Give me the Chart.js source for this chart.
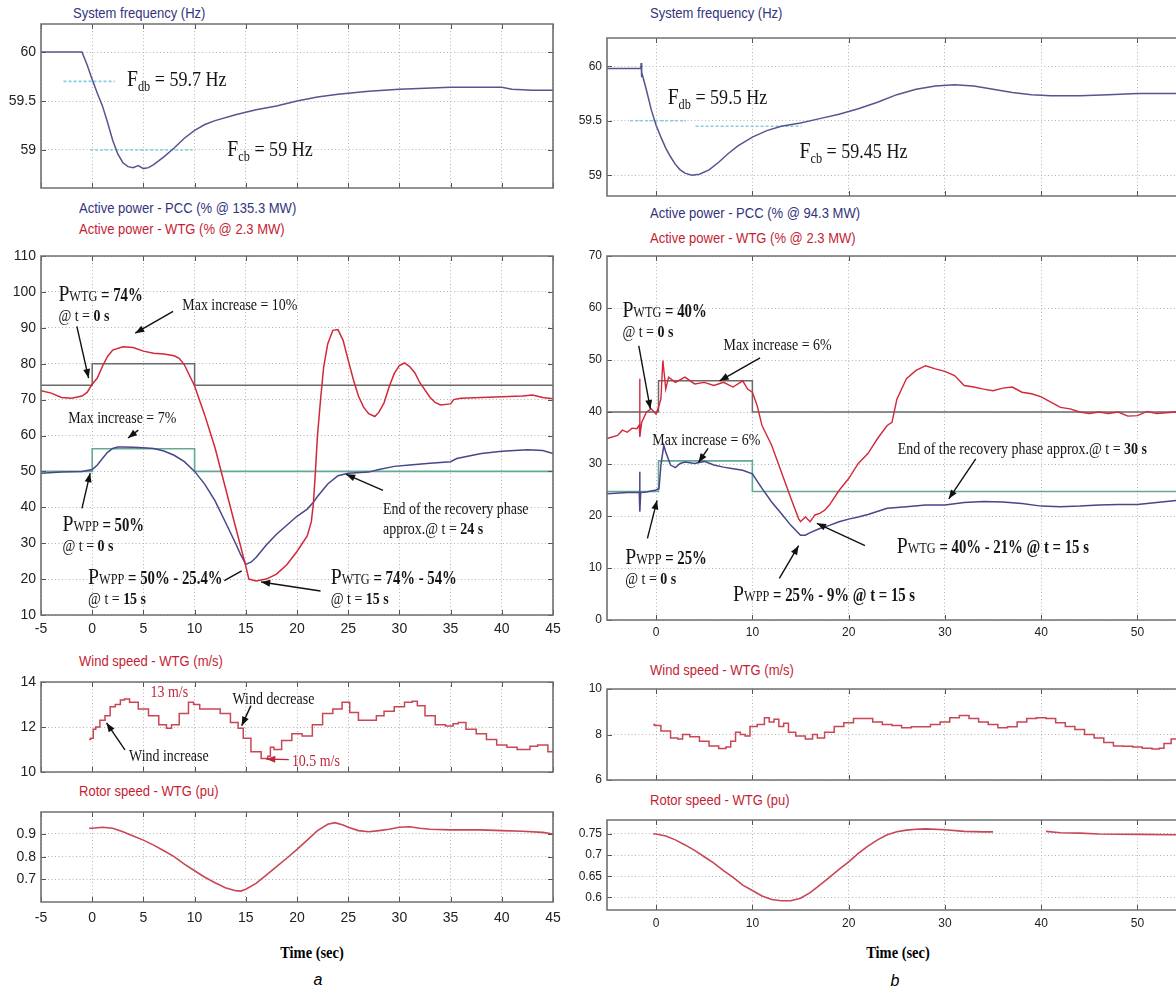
<!DOCTYPE html>
<html><head><meta charset="utf-8">
<script src="https://cdn.jsdelivr.net/npm/chart.js@4.4.1/dist/chart.umd.min.js"></script>
<style>
html,body{margin:0;padding:0;background:#fff}
body{width:1176px;height:987px;position:relative;overflow:hidden}
.cw{position:absolute}
.cw canvas{display:block}
.tt{position:absolute;white-space:nowrap;font-family:"Liberation Sans",Arial,sans-serif;font-size:14px;transform:translateY(-50%) scaleX(0.93);transform-origin:0 50%}
.blue{color:#33337d}.red{color:#c41e34}
.xt{position:absolute;white-space:nowrap;font-family:"Liberation Serif",serif;font-weight:bold;font-size:17px;transform:translate(-50%,-50%) scaleX(0.85)}
.pl{position:absolute;font-family:"Liberation Sans",Arial,sans-serif;font-style:italic;font-size:16px;transform:translate(-50%,-50%)}
</style></head><body>
<div class="tt blue" style="left:73px;top:13px">System frequency (Hz)</div>
<div class="tt blue" style="left:79px;top:208px">Active power - PCC (% @ 135.3 MW)</div>
<div class="tt red" style="left:79px;top:229px">Active power - WTG (% @ 2.3 MW)</div>
<div class="tt red" style="left:79px;top:661px">Wind speed - WTG (m/s)</div>
<div class="tt red" style="left:79px;top:791px">Rotor speed - WTG (pu)</div>
<div class="tt blue" style="left:650px;top:13px">System frequency (Hz)</div>
<div class="tt blue" style="left:650px;top:213px">Active power - PCC (% @ 94.3 MW)</div>
<div class="tt red" style="left:650px;top:238px">Active power - WTG (% @ 2.3 MW)</div>
<div class="tt red" style="left:650px;top:670px">Wind speed - WTG (m/s)</div>
<div class="tt red" style="left:650px;top:800px">Rotor speed - WTG (pu)</div>
<div class="xt" style="left:312px;top:953px">Time (sec)</div>
<div class="xt" style="left:898px;top:953px">Time (sec)</div>
<div class="pl" style="left:318px;top:980px">a</div>
<div class="pl" style="left:895px;top:981px">b</div>
<script>
// ================= DATA =================
// ---- panel a : system frequency ----
const aFreqT = [-5,-1,-0.5,0,0.5,1,1.5,2,2.5,3,3.5,4,4.5,5,5.5,6,7,8,9,10,11,12,14,16,18,20,22,24,27,30,35,40,41,43,45];
const aFreqV = [60,60,59.87,59.72,59.58,59.45,59.28,59.1,58.96,58.87,58.83,58.82,58.84,58.81,58.82,58.85,58.93,59.02,59.12,59.2,59.26,59.3,59.36,59.41,59.45,59.5,59.54,59.57,59.6,59.62,59.64,59.64,59.62,59.61,59.61];
const aFdbT = [-2.8,2.2], aFdbV = [59.7,59.7];
const aFcbT = [-0.2,9.8], aFcbV = [59,59];
// ---- panel a : active power ----
const aWtgT = [-5,-4,-3,-2,-1,-0.5,0,0.5,1,1.5,2,3,4,5,6,7,8,8.5,9,10,11,12,13,14,15,15.3,16,17,18,19,20,21,21.4,21.6,21.8,22,22.3,22.6,23,23.5,24,24.5,25,25.5,26,26.5,27,27.6,28,28.5,29,29.5,30,30.5,31,31.5,32,33,33.5,34,35,35.3,36,38,40,42,43,44,45];
const aWtgV = [72.5,71.8,70.6,70.4,71,72,74.3,76,79.3,82,83.8,84.7,84.5,83.5,82.9,82.7,82.2,81.5,79.7,73.8,65.6,56.5,45.5,34.5,23.6,20,19.5,20,21.4,24,27.7,32,36,41,50,60,70,79,85.5,89.3,89.5,86.5,81,75.6,71,67.9,66.1,65.3,66.5,69.1,73.6,77.3,79.5,80.2,79.2,77.5,74.7,70.6,69.2,68.5,68.8,70,70.4,70.6,70.8,71,71.3,70.6,70.2];
const aPccT = [-5,-3,-1,0,0.5,1,1.5,2,2.5,3,4,5,6,7,8,9,10,11,12,13,14,14.5,15,15.5,16,17,18,19,20,21,21.6,22,23,24,25,27,28,29.5,31,33,35,35.6,38,40,42.5,44,45];
const aPccV = [49.5,49.8,50,50.5,51.8,53.6,55.3,56.4,56.8,56.8,56.7,56.6,56.4,55.7,54.5,52.7,50,46.4,41.8,35.9,30,26.8,24.1,24.7,26,29.5,32.5,35,37.5,39.5,41.4,43,46.5,48.8,49.5,49.8,50.5,51.4,51.8,52.3,52.7,53.6,55,55.6,56,55.8,55];
const aWtgRefT = [-5,0,0,10,10,45], aWtgRefV = [74,74,80,80,74,74];
const aPccRefT = [-5,0,0,10,10,45], aPccRefV = [50,50,56.3,56.3,50,50];
// ---- panel a : wind speed / rotor speed ----
const aWindT = [-0.3,0,0.2,0.5,1,1.5,2,2.5,3,3.3,4,5,6,7,7.5,8,9,9.8,10,11,12,13,14,14.5,15,16,17,17.3,17.5,18,19,20,21,22,23,24,24.8,25.5,26.5,27.5,28,29,30,31,31.5,32,33,34,35,35.5,36,37,38,39,40,41,42,42.5,43,44,45];
const aWindV = [11.45,11.5,11.9,12.0,12.3,12.5,12.9,13.0,13.2,13.25,13.1,12.8,12.5,12.1,11.95,12.1,12.6,13.1,13.0,12.8,12.8,12.6,12.2,11.95,11.5,10.9,10.6,10.7,11.1,11.0,11.4,11.7,11.6,12.1,12.6,12.8,13.1,12.65,12.3,12.3,12.5,12.7,12.9,13.1,13.15,12.95,12.5,12.1,12.05,12.15,12.2,11.9,11.7,11.45,11.2,11.1,11.0,11.0,11.15,11.2,10.9];
const aRotorT = [-0.3,0,1,2,3,4,5,6,7,8,9,10,11,12,13,14,14.5,15,16,17,18,19,20,21,22,23,23.7,24.5,25,26,27,28,29,30,31,32,33,35,38,40,42,44,45];
const aRotorV = [0.925,0.925,0.93,0.925,0.91,0.891,0.873,0.851,0.826,0.8,0.767,0.738,0.709,0.685,0.663,0.65,0.648,0.656,0.682,0.719,0.756,0.793,0.832,0.873,0.915,0.943,0.95,0.94,0.93,0.915,0.91,0.915,0.921,0.93,0.932,0.925,0.921,0.918,0.918,0.915,0.912,0.907,0.9];
// ---- panel b : system frequency ----
const bFreqT = [-5.1,-1.6,-1.55,-1.5,-1.45,-1,-0.5,0,0.5,1,1.5,2,2.5,3,3.7,4.5,5.5,6.5,7.5,8.5,10,11.5,13,15,17,19,21,23,25,27,29,31,33,35,37,39,41,44,47,50,54];
const bFreqV = [59.98,59.98,60.03,59.9,59.93,59.78,59.6,59.46,59.35,59.25,59.17,59.1,59.05,59.02,59.0,59.01,59.05,59.12,59.2,59.27,59.35,59.41,59.45,59.48,59.52,59.56,59.61,59.67,59.74,59.79,59.82,59.83,59.82,59.79,59.76,59.74,59.73,59.73,59.74,59.75,59.75];
const bFdbT = [-2.7,3.1], bFdbV = [59.5,59.5];
const bFcbT = [4.1,15.1], bFcbV = [59.45,59.45];
// ---- panel b : active power ----
const bWtgT = [-5.1,-4,-3.5,-3,-2.5,-2,-1.75,-1.7,-1.68,-1.5,-1,-0.5,0,0.3,0.5,0.7,0.9,1.0,1.3,2,3,4,5,6,7,8,9,9.5,10,10.5,11,12,13,14,14.8,15,15.5,16,16.5,17,17.5,18,19,20,21,22,23,24,24.5,25,26,27,28,29,30,31,32,33,34,35,36,37,38,39,40,41,42,43,44,45,46,47,48,49,50,51,52,54];
const bWtgV = [34.9,35.5,36.5,36.1,36.9,36.8,37.5,46.4,35.2,38,40,40.6,39.6,41.2,42.5,49.9,46.4,44.4,46.7,45.7,46.7,45.4,45.7,45.1,45.7,44.8,46,44.4,43.8,41.2,37.4,33.6,28.5,23.4,19.5,18.9,19.8,18.9,20.2,20.5,21.1,22.1,24.9,27.2,30.1,32,34.9,37.4,38,42.4,46.4,48,48.9,48.3,47.8,47,45.1,44.8,44.4,44.1,44.6,44.8,43.8,43.5,42.9,41.9,40.9,40.6,40,39.7,40,39.7,40,39.2,39.3,40.1,39.7,40];
const bPccT = [-5.1,-3,-1.75,-1.7,-1.68,-1.6,-1,0,0.3,0.5,0.8,1.0,1.5,2,2.5,3,4,5,6,7,8,9,10,11,12,13,14,15,15.5,16,17,18,19,20,21,22,24,26,28,30,32,34,36,38,40,42,44,46,48,50,52,54];
const bPccV = [24.3,24.5,24.5,28.5,20.8,24.5,24.6,25,25.3,29.8,33.6,32.3,29.8,29.3,30.1,30.4,30.1,30.5,29.8,29.4,29.1,28.8,28.1,25.3,22.7,20.5,18.2,16.3,16.3,16.8,17.6,18.2,18.9,19.4,19.8,20.3,21.5,21.8,22.1,22.1,22.6,22.8,22.7,22.4,21.9,21.8,21.9,22.1,22.2,22.2,22.6,23];
const bWtgRefT = [-5.1,0.25,0.25,10,10,54], bWtgRefV = [40,40,46,46,40,40];
const bPccRefT = [-5.1,0.25,0.25,10,10,54], bPccRefV = [24.7,24.7,30.6,30.6,24.7,24.7];
// ---- panel b : wind speed / rotor speed ----
const bWindT = [-0.3,0,1,2,2.5,3,4,5,6,7,7.5,8,8.5,9,9.5,10,11,11.5,12,12.5,13,13.5,14,15,16,16.5,17,18,19,20,21,22,23,24,25,26,27,28,29,30,31,32,33,34,35,36,37,38,39,40,41,42,43,44,45,46,47,48,49,50,51,52,52.5,53,54];
const bWindV = [8.44,8.4,8.15,7.85,7.8,8.0,7.9,7.7,7.5,7.38,7.45,7.7,8.1,8.0,7.93,8.35,8.44,8.74,8.55,8.67,8.35,8.5,8.1,7.93,7.8,8.0,7.85,8.1,8.35,8.52,8.7,8.7,8.55,8.44,8.4,8.3,8.34,8.34,8.44,8.55,8.74,8.84,8.7,8.55,8.44,8.3,8.34,8.55,8.7,8.74,8.7,8.52,8.35,8.22,8.0,7.85,7.65,7.5,7.48,7.45,7.4,7.36,7.4,7.6,7.8];
const bRotorT = [-0.3,0,1,2,3,4,5,6,7,8,9,10,11,12,13,14,15,16,17,18,19,20,21,22,23,24,25,26,27,28,30,32,34,35,37.5,40.5,42,44,46,50,54];
const bRotorV = [0.75,0.75,0.745,0.736,0.724,0.711,0.696,0.681,0.663,0.647,0.629,0.616,0.603,0.595,0.592,0.592,0.598,0.611,0.629,0.647,0.666,0.684,0.704,0.721,0.736,0.748,0.755,0.759,0.761,0.762,0.76,0.756,0.755,0.755,null,0.756,0.753,0.752,0.75,0.749,0.748];
// ---- tick values ----
const aXTicks = [-5,0,5,10,15,20,25,30,35,40,45];
const bXTicks = [0,10,20,30,40,50];
const aFreqTicks = [59,59.5,60], aPowTicks = [10,20,30,40,50,60,70,80,90,100,110], aWindTicks = [10,12,14], aRotorTicks = [0.7,0.8,0.9];
const bFreqTicks = [59,59.5,60], bPowTicks = [0,10,20,30,40,50,60,70], bWindTicks = [6,8,10], bRotorTicks = [0.6,0.65,0.7,0.75];

// ================= DRAWING =================
const HS = 0.82;
const SERIF = '"Liberation Serif","Times New Roman",serif';
const annMap = new WeakMap();
const C = {freq:'#55558f', pcc:'#47478a', wtg:'#d2283a', gref:'#6a6a6a', pref:'#63a996', cyan:'#86cde0', wind:'#c84656'};

function pts(ts, vs){ return ts.map((t,i)=>({x:t, y:vs[i]})); }
function ln(ts, vs, color, width, extra){
  return Object.assign({data:pts(ts,vs), borderColor:color, borderWidth:width, pointRadius:0, tension:0, fill:false, spanGaps:false}, extra||{});
}
const Pl = (sub, rest) => [{t:'P', s:24}, {t:sub, s:15}, {t:rest, s:18, w:700}];
const Tx = (txt, bold) => bold ? [{t:txt, s:17}, {t:bold, s:17, w:700}] : [{t:txt, s:17}];
const Fl = (sub, rest) => [{t:'F', s:24}, {t:sub, s:15, dy:5}, {t:rest, s:22}];

function drawParts(ctx, px, py, parts, color){
  ctx.save(); ctx.translate(px, py); ctx.scale(HS, 1);
  ctx.fillStyle = color; ctx.textBaseline = 'alphabetic';
  let cx = 0;
  parts.forEach(p=>{
    ctx.font = (p.w||400) + ' ' + p.s + 'px ' + SERIF;
    ctx.fillText(p.t, cx, 6 + (p.dy||0));
    cx += ctx.measureText(p.t).width;
  });
  ctx.restore();
}
function drawArrow(ctx, x1, y1, x2, y2, color, head){
  ctx.strokeStyle = color; ctx.fillStyle = color; ctx.lineWidth = 1.4;
  ctx.beginPath(); ctx.moveTo(x1,y1); ctx.lineTo(x2,y2); ctx.stroke();
  if (head){
    const a = Math.atan2(y2-y1, x2-x1), L = 9, W = 3.5;
    ctx.beginPath(); ctx.moveTo(x2,y2);
    ctx.lineTo(x2 - L*Math.cos(a) + W*Math.sin(a), y2 - L*Math.sin(a) - W*Math.cos(a));
    ctx.lineTo(x2 - L*Math.cos(a) - W*Math.sin(a), y2 - L*Math.sin(a) + W*Math.cos(a));
    ctx.closePath(); ctx.fill();
  }
}
const annPlugin = {id:'ann', afterDraw(chart){
  const s = annMap.get(chart.canvas); if (!s) return;
  const ctx = chart.ctx, a = chart.chartArea, xs = chart.scales.x, ys = chart.scales.y;
  ctx.save();
  ctx.strokeStyle = '#555'; ctx.lineWidth = 1;
  ctx.beginPath();
  xs.ticks.forEach(t=>{ const p = Math.round(xs.getPixelForValue(t.value))+0.5;
    ctx.moveTo(p,a.top); ctx.lineTo(p,a.top+5); ctx.moveTo(p,a.bottom); ctx.lineTo(p,a.bottom-5); });
  ys.ticks.forEach(t=>{ const p = Math.round(ys.getPixelForValue(t.value))+0.5;
    ctx.moveTo(a.left,p); ctx.lineTo(a.left+5,p);
    if (!s.open){ ctx.moveTo(a.right,p); ctx.lineTo(a.right-5,p); } });
  ctx.stroke();
  ctx.strokeStyle = '#707070'; ctx.lineWidth = 1.6;
  ctx.beginPath();
  if (s.open){ ctx.moveTo(a.right+2,a.top); ctx.lineTo(a.left,a.top); ctx.lineTo(a.left,a.bottom); ctx.lineTo(a.right+2,a.bottom); }
  else ctx.rect(a.left, a.top, a.right-a.left, a.bottom-a.top);
  ctx.stroke();
  (s.arrows||[]).forEach(r=>drawArrow(ctx, xs.getPixelForValue(r[0]), ys.getPixelForValue(r[1]), xs.getPixelForValue(r[2]), ys.getPixelForValue(r[3]), r[5]||'#111', r[4]));
  (s.texts||[]).forEach(tx=>drawParts(ctx, xs.getPixelForValue(tx.x), ys.getPixelForValue(tx.y), tx.parts, tx.color||'#151515'));
  ctx.restore();
}};
Chart.register(annPlugin);

function makeChart(s){
  const [bl,bt,br,bb] = s.box;
  const L = bl - s.yw, T = bt - s.pt;
  const W = s.yw + (br-bl) + s.pr, H = s.pt + (bb-bt) + s.xh;
  const div = document.createElement('div'); div.className = 'cw';
  Object.assign(div.style, {left:L+'px', top:T+'px', width:W+'px', height:H+'px'});
  const cv = document.createElement('canvas');
  cv.width = W; cv.height = H; cv.style.width = W+'px'; cv.style.height = H+'px';
  div.appendChild(cv); document.body.appendChild(div);
  annMap.set(cv, s);
  const font = () => ({family:'"Liberation Sans",Arial,sans-serif', size:s.fs||13});
  const grid = () => ({color:'#b4b4b4', lineWidth:1, drawTicks:false});
  const border = () => ({display:false, dash:[1,2.5]});
  return new Chart(cv, {type:'line', data:{datasets:s.datasets}, options:{
    responsive:false, animation:false, devicePixelRatio:1, events:[],
    layout:{padding:{top:s.pt, right:s.pr, left:0, bottom:0}},
    plugins:{legend:{display:false}, tooltip:{enabled:false}},
    scales:{
      x:{type:'linear', min:s.xr[0], max:s.xr[1], grid:grid(), border:border(),
         afterBuildTicks: sc=>{ sc.ticks = s.xTicks.map(v=>({value:v})); },
         ticks:{display:!!s.xLab, color:'#222', font:font(), padding:s.xpad||6, maxRotation:0, minRotation:0, autoSkip:false, callback:v=>String(v)},
         afterFit: sc=>{ sc.height = s.xh; sc.paddingLeft = 0; sc.paddingRight = 0; }},
      y:{type:'linear', min:s.yr[0], max:s.yr[1], grid:grid(), border:border(),
         afterBuildTicks: sc=>{ sc.ticks = s.yTicks.map(v=>({value:v})); },
         ticks:{color:'#222', font:font(), padding:5, autoSkip:false, callback:v=>String(v)},
         afterFit: sc=>{ sc.width = s.yw; sc.paddingTop = 0; sc.paddingBottom = 0; }}
    }
  }});
}

const aX = [-5,45], bX = [-5.1,54];
// ---------- panel a ----------
makeChart({box:[41,24,553,188], yw:40, pt:10, pr:8, xh:8, xr:aX, yr:[58.612,60.286], xTicks:aXTicks, yTicks:aFreqTicks, fs:14,
  datasets:[ ln(aFreqT,aFreqV,C.freq,1.5), ln(aFdbT,aFdbV,C.cyan,1.6,{borderDash:[3,2]}), ln(aFcbT,aFcbV,C.cyan,1.6,{borderDash:[3,2]}) ],
  texts:[ {x:3.4, y:59.71, parts:Fl('db',' = 59.7 Hz')}, {x:13.2, y:59.0, parts:Fl('cb',' = 59 Hz')} ]});
makeChart({box:[41,256,553,615], yw:40, pt:10, pr:8, xh:30, xLab:true, xpad:6, xr:aX, yr:[10,110], xTicks:aXTicks, yTicks:aPowTicks, fs:14,
  datasets:[ ln(aWtgT,aWtgV,C.wtg,1.5), ln(aPccT,aPccV,C.pcc,1.5), ln(aWtgRefT,aWtgRefV,C.gref,1.5), ln(aPccRefT,aPccRefV,C.pref,1.6) ],
  texts:[
    {x:-3.3, y:99.2, parts:Pl('WTG',' = 74%')}, {x:-3.3, y:93.6, parts:Tx('@ t = ','0 s')},
    {x:8.8, y:96.6, parts:Tx('Max increase = 10%')}, {x:-2.35, y:65.1, parts:Tx('Max increase = 7%')},
    {x:-2.9, y:35, parts:Pl('WPP',' = 50%')}, {x:-2.9, y:29.4, parts:Tx('@ t = ','0 s')},
    {x:-0.4, y:20.2, parts:Pl('WPP',' = 50% - 25.4%')}, {x:-0.4, y:14.8, parts:Tx('@ t = ','15 s')},
    {x:23.3, y:20.2, parts:Pl('WTG',' = 74% - 54%')}, {x:23.3, y:14.8, parts:Tx('@ t = ','15 s')},
    {x:28.4, y:39.7, parts:Tx('End of the recovery phase')}, {x:28.4, y:34.2, parts:Tx('approx.@ t = ','24 s')} ],
  arrows:[ [-1.5,90.4,-0.35,76,true], [7.9,94.6,4.2,88.5,true], [4.5,61.5,3.5,59.3,true], [-1,39.7,-0.2,49.5,true],
           [12.9,19.6,14.6,22.3,false], [22.3,16.7,16.5,19.2,true], [28.4,44.7,24.8,49.2,true] ]});
makeChart({box:[41,682,553,772], yw:40, pt:10, pr:8, xh:8, xr:aX, yr:[10,14], xTicks:aXTicks, yTicks:aWindTicks, fs:14,
  datasets:[ ln(aWindT,aWindV,C.wind,1.5,{stepped:'middle'}) ],
  texts:[ {x:5.7, y:13.6, parts:Tx('13 m/s'), color:'#c0283c'}, {x:13.7, y:13.3, parts:Tx('Wind decrease')},
          {x:3.6, y:10.76, parts:Tx('Wind increase')}, {x:19.5, y:10.53, parts:Tx('10.5 m/s'), color:'#c0283c'} ],
  arrows:[ [3.2,10.98,1.4,12.18,true], [15.5,12.95,14.6,12.06,true], [19.2,10.55,17.0,10.58,true,'#c0283c'] ]});
makeChart({box:[41,812,553,902], yw:40, pt:10, pr:8, xh:30, xLab:true, xpad:8, xr:aX, yr:[0.6,0.997], xTicks:aXTicks, yTicks:aRotorTicks, fs:14,
  datasets:[ ln(aRotorT,aRotorV,C.wind,1.6) ]});
// ---------- panel b ----------
makeChart({box:[607,38,1176,196], yw:40, pt:10, pr:0, xh:8, open:true, xr:bX, yr:[58.81,60.26], xTicks:bXTicks, yTicks:bFreqTicks, fs:12,
  datasets:[ ln(bFreqT,bFreqV,C.freq,1.5), ln(bFdbT,bFdbV,C.cyan,1.6,{borderDash:[3,2]}), ln(bFcbT,bFcbV,C.cyan,1.6,{borderDash:[3,2]}) ],
  texts:[ {x:1.2, y:59.71, parts:Fl('db',' = 59.5 Hz')}, {x:14.9, y:59.21, parts:Fl('cb',' = 59.45 Hz')} ]});
makeChart({box:[607,256,1176,620], yw:40, pt:10, pr:0, xh:30, xLab:true, xpad:5, open:true, xr:bX, yr:[0,70], xTicks:bXTicks, yTicks:bPowTicks, fs:12,
  datasets:[ ln(bWtgT,bWtgV,C.wtg,1.4), ln(bPccT,bPccV,C.pcc,1.5), ln(bWtgRefT,bWtgRefV,C.gref,1.5), ln(bPccRefT,bPccRefV,C.pref,1.6) ],
  texts:[
    {x:-3.5, y:59.4, parts:Pl('WTG',' = 40%')}, {x:-3.5, y:55.6, parts:Tx('@ t = ','0 s')},
    {x:7.0, y:53.1, parts:Tx('Max increase = 6%')}, {x:-0.4, y:34.9, parts:Tx('Max increase = 6%')},
    {x:-3.2, y:12, parts:Pl('WPP',' = 25%')}, {x:-3.2, y:8, parts:Tx('@ t = ','0 s')},
    {x:8.0, y:4.8, parts:Pl('WPP',' = 25% - 9% @ t = 15 s')},
    {x:25.0, y:14, parts:Pl('WTG',' = 40% - 21% @ t = 15 s')},
    {x:25.1, y:33.1, parts:Tx('End of the recovery phase approx.@ t = ','30 s')} ],
  arrows:[ [-1.8,52.7,-0.6,40.6,true], [10.8,50.4,6.6,46,true], [5.4,33,4.4,30.3,true], [-0.9,15.7,0.1,23,true],
           [12.8,8,14.8,14.3,true], [21.7,14.3,16.7,18.6,true], [33.2,31,30.4,23.3,true] ]});
makeChart({box:[607,689,1176,780], yw:40, pt:10, pr:0, xh:8, open:true, xr:bX, yr:[6,10], xTicks:bXTicks, yTicks:bWindTicks, fs:12,
  datasets:[ ln(bWindT,bWindV,C.wind,1.5,{stepped:'middle'}) ]});
makeChart({box:[607,820,1176,910], yw:40, pt:10, pr:0, xh:30, xLab:true, xpad:6, open:true, xr:bX, yr:[0.570,0.783], xTicks:bXTicks, yTicks:bRotorTicks, fs:12,
  datasets:[ ln(bRotorT,bRotorV,C.wind,1.6) ]});
</script>
</body></html>
